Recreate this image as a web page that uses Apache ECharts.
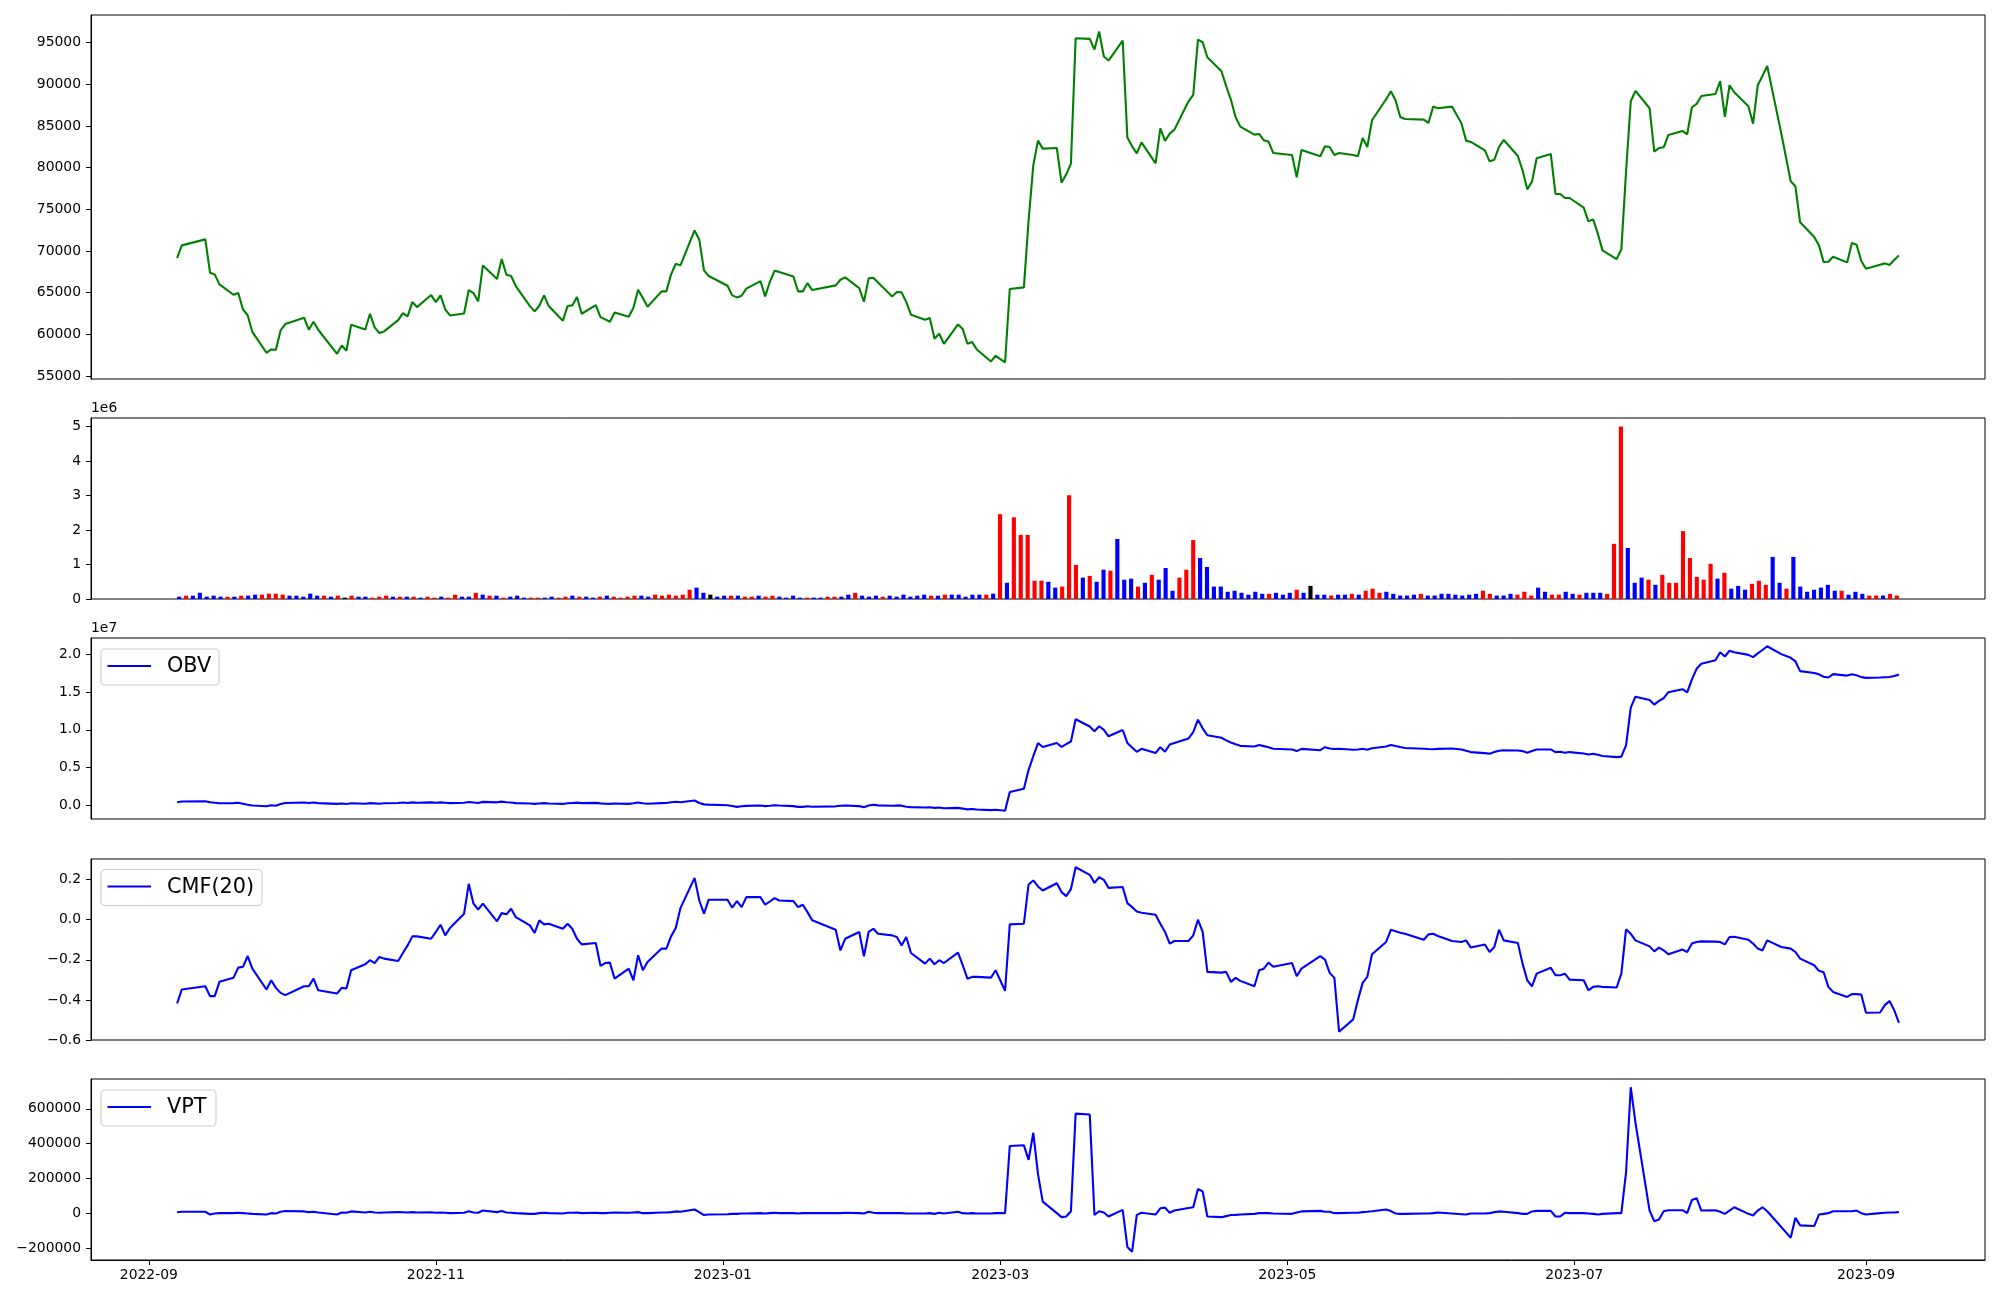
<!DOCTYPE html>
<html>
<head>
<meta charset="utf-8">
<script src="https://cdn.jsdelivr.net/npm/echarts@6.0.0/dist/echarts.min.js"></script>
<style>html,body{margin:0;padding:0;background:#fff}#c{width:2000px;height:1300px}</style>
</head>
<body>
<div id="c"></div>
<script>
// ---------- DATA ----------
// Trading days (Korean market), by month
const tradingDays = [
  ['2022-09', [7,8,13,14,15,16,19,20,21,22,23,26,27,28,29,30]],
  ['2022-10', [4,5,6,7,11,12,13,14,17,18,19,20,21,24,25,26,27,28,31]],
  ['2022-11', [1,2,3,4,7,8,9,10,11,14,15,16,17,18,21,22,23,24,25,28,29,30]],
  ['2022-12', [1,2,5,6,7,8,9,12,13,14,15,16,19,20,21,22,23,26,27,28,29]],
  ['2023-01', [2,3,4,5,6,9,10,11,12,13,16,17,18,19,20,25,26,27,30,31]],
  ['2023-02', [1,2,3,6,7,8,9,10,13,14,15,16,17,20,21,22,23,24,27,28]],
  ['2023-03', [2,3,6,7,8,9,10,13,14,15,16,17,20,21,22,23,24,27,28,29,30,31]],
  ['2023-04', [3,4,5,6,7,10,11,12,13,14,17,18,19,20,21,24,25,26,27,28]],
  ['2023-05', [2,3,4,8,9,10,11,12,15,16,17,18,19,22,23,24,25,26,30,31]],
  ['2023-06', [1,2,5,7,8,9,12,13,14,15,16,19,20,21,22,23,26,27,28,29,30]],
  ['2023-07', [3,4,5,6,7,10,11,12,13,14,17,18,19,20,21,24,25,26,27,28,31]],
  ['2023-08', [1,2,3,4,7,8,9,10,11,14,16,17,18,21,22,23,24,25,28,29,30,31]],
  ['2023-09', [1,4,5,6,7,8]]
];

const closePrice = [
  69160,70680,71400,67400,67200,66000,64760,64960,63000,62300,60300,57800,58200,58160,60480,61240,
  62000,60560,61520,60560,57680,58680,58040,61160,60600,62480,60840,60160,60360,61720,62560,62160,63880,63280,64720,
  63880,64680,63000,62280,62520,65320,64960,63960,68280,66640,69040,67160,67000,65800,63400,62760,63440,64680,63400,61640,63400,63480,
  64480,62480,63520,62080,61800,61520,62640,62120,63200,65360,64360,63320,65160,65160,67200,68480,68280,72480,71360,67680,67000,
  65840,64680,64440,64640,65500,66400,64560,66300,67640,67500,66960,65160,65160,66160,65320,65880,66560,66840,65560,63920,
  66720,66800,66240,64560,65080,65040,63880,62360,61760,61960,59480,60080,58880,61200,60640,58880,59080,58200,56760,57440,
  56640,65440,65640,73680,80280,83240,82280,82360,78200,79200,80480,95520,95440,94160,96320,93320,92840,95240,83600,82560,81720,83040,
  80520,84720,83200,84080,84560,87960,88720,95360,95040,93240,91560,89760,88160,86040,84920,83960,84040,83280,83120,81760,
  81520,78840,82120,81360,82560,82480,81520,81760,81520,81360,83560,82480,85680,88200,89160,88080,86080,85840,85760,85360,
  87320,87120,87320,85320,83240,83080,82080,80760,80960,82480,83320,81400,79680,77400,78320,81120,81640,76840,76840,76360,76360,
  75200,73560,73800,72080,70080,69040,70200,79500,87960,89200,87120,81920,82360,82440,83920,84400,84000,87240,87640,88600,88840,
  90360,86080,89880,89040,87360,85280,89880,91000,92200,84100,78360,77760,73440,71680,70680,68680,68720,69320,68640,70960,70760,68800,
  67880,68360,68520,68320,68920,69480
];

// Volume in millions of shares
const volumeM = [
  0.068,0.097,0.097,0.18,0.068,0.097,0.068,0.068,0.068,0.097,0.097,0.126,0.126,0.155,0.155,0.126,
  0.097,0.097,0.068,0.155,0.097,0.097,0.068,0.097,0.04,0.097,0.068,0.068,0.04,0.068,0.097,0.068,0.068,0.068,0.068,
  0.04,0.068,0.04,0.068,0.04,0.126,0.068,0.068,0.18,0.126,0.097,0.097,0.04,0.068,0.097,0.04,0.04,0.04,0.04,0.068,0.04,0.068,
  0.097,0.068,0.068,0.04,0.068,0.097,0.068,0.04,0.068,0.097,0.097,0.068,0.126,0.097,0.126,0.097,0.126,0.27,0.33,0.18,0.126,
  0.068,0.097,0.097,0.097,0.068,0.068,0.097,0.068,0.097,0.068,0.04,0.097,0.04,0.04,0.04,0.04,0.068,0.068,0.068,0.126,
  0.18,0.097,0.068,0.097,0.068,0.097,0.068,0.126,0.068,0.097,0.126,0.097,0.097,0.126,0.126,0.126,0.068,0.126,0.126,0.126,
  0.155,2.46,0.47,2.37,1.86,1.86,0.53,0.53,0.5,0.33,0.36,3.01,0.99,0.62,0.67,0.5,0.85,0.82,1.74,0.56,0.59,0.36,
  0.47,0.70,0.56,0.90,0.24,0.62,0.85,1.71,1.19,0.93,0.36,0.36,0.21,0.24,0.18,0.125,0.21,0.15,0.15,0.18,
  0.125,0.18,0.27,0.18,0.38,0.125,0.125,0.1,0.125,0.125,0.15,0.125,0.24,0.30,0.18,0.21,0.15,0.1,0.1,0.125,
  0.15,0.1,0.1,0.15,0.15,0.125,0.1,0.125,0.15,0.24,0.15,0.1,0.1,0.15,0.125,0.21,0.1,0.33,0.21,0.125,0.125,
  0.21,0.15,0.125,0.18,0.18,0.18,0.15,1.6,5.0,1.48,0.47,0.62,0.56,0.41,0.70,0.47,0.47,1.97,1.19,0.64,0.56,
  1.02,0.59,0.76,0.30,0.38,0.27,0.44,0.53,0.41,1.22,0.47,0.30,1.22,0.36,0.21,0.27,0.33,0.41,0.24,0.24,0.125,0.21,
  0.15,0.1,0.1,0.1,0.15,0.1
];

// Candle direction of each day: U = up (close > open), D = down, E = equal
const candleDir = (
  'DUDDDDDUDUDDUUUU' +
  'DDDDDUDUEUDDUUUDUDU' +
  'DUUDUUDDUDUDUDDDUUDDUU' +
  'DUDDUDUUUUDDUUUUUUDDE' +
  'DDUDUUDUUDDDDUDDUUDD' +
  'UDDDUDDDDDDUDUDDDDDU' +
  'DUDUUUUUDDUUUDUDDUDDDU' +
  'DUDDDUUUDDDDDDDDDDUD' +
  'DDUDEDDUDDUDUUUDDDDD' +
  'UDDDDDDDDUUDDDUUUDDUU' +
  'DDUDDDUUUDDDUDUUUUUUU' +
  'UDUDDDUUUDDUDDDDDDDUDD' +
  'DUUDUU'
);

// On-balance volume, millions
const obvM = [
  0.39,0.49,0.53,0.39,0.33,0.25,0.28,0.32,0.2,0.05,-0.05,-0.13,0.0,-0.08,0.15,0.3,
  0.35,0.3,0.36,0.28,0.17,0.22,0.16,0.26,0.2,0.28,0.24,0.2,0.26,0.3,0.35,0.3,0.37,0.32,0.38,
  0.33,0.38,0.33,0.28,0.33,0.42,0.36,0.3,0.44,0.38,0.47,0.4,0.35,0.28,0.22,0.17,0.22,0.27,0.22,0.17,0.25,0.3,
  0.34,0.27,0.31,0.24,0.2,0.17,0.22,0.18,0.25,0.35,0.26,0.2,0.28,0.3,0.4,0.46,0.4,0.62,0.29,0.11,0.08,
  0.0,-0.1,-0.22,-0.15,-0.09,-0.04,-0.12,-0.07,0.0,-0.05,-0.12,-0.22,-0.22,-0.15,-0.2,-0.15,-0.08,-0.04,-0.12,-0.26,
  -0.05,0.05,-0.02,-0.08,-0.03,-0.06,-0.2,-0.26,-0.3,-0.27,-0.35,-0.3,-0.4,-0.36,-0.45,-0.55,-0.5,-0.58,-0.66,-0.6,
  -0.74,1.75,2.18,4.7,6.5,8.25,7.72,8.25,7.75,8.1,8.45,11.4,10.45,9.82,10.48,10.0,9.15,9.98,8.26,7.65,7.09,7.48,
  6.93,7.7,7.1,8.05,8.27,8.86,9.7,11.35,10.2,9.28,8.95,8.6,8.33,8.08,7.88,7.8,7.98,7.84,7.7,7.5,
  7.4,7.18,7.48,7.3,7.7,7.52,7.45,7.5,7.35,7.4,7.5,7.35,7.55,7.8,8.0,7.85,7.72,7.6,7.5,7.45,
  7.42,7.48,7.53,7.4,7.22,7.05,6.91,6.83,7.05,7.22,7.3,7.26,7.18,6.96,7.18,7.4,7.4,7.05,7.09,6.96,7.05,
  6.87,6.74,6.83,6.7,6.52,6.38,6.45,7.95,12.95,14.4,13.96,13.35,13.85,14.2,15.0,15.4,14.97,16.7,18.1,18.77,19.25,
  20.3,19.74,20.5,20.3,19.95,19.65,20.15,20.6,21.1,20.05,19.56,19.08,17.8,17.55,17.37,17.05,16.95,17.4,17.2,17.37,17.24,17.0,
  16.9,16.94,16.98,17.02,17.15,17.33
];

// Chaikin money flow (20)
const cmf20 = [
  -0.418,-0.348,-0.332,-0.381,-0.381,-0.31,-0.289,-0.239,-0.235,-0.181,-0.244,-0.348,-0.302,-0.34,-0.365,-0.376,
  -0.332,-0.332,-0.294,-0.352,-0.368,-0.34,-0.343,-0.252,-0.222,-0.202,-0.216,-0.186,-0.194,-0.206,-0.166,-0.128,-0.083,-0.083,-0.095,
  -0.061,-0.025,-0.078,-0.041,0.03,0.179,0.08,0.051,0.08,-0.008,0.033,0.027,0.055,0.013,-0.028,-0.066,-0.003,-0.023,-0.02,-0.045,-0.02,-0.045,
  -0.095,-0.123,-0.116,-0.23,-0.216,-0.214,-0.294,-0.244,-0.302,-0.177,-0.252,-0.211,-0.144,-0.144,-0.083,-0.041,0.058,0.209,0.096,0.03,0.1,
  0.1,0.06,0.093,0.063,0.113,0.113,0.075,0.091,0.108,0.096,0.093,0.063,0.075,0.038,-0.003,-0.05,-0.153,-0.095,-0.061,-0.182,
  -0.061,-0.045,-0.07,-0.078,-0.086,-0.128,-0.086,-0.166,-0.219,-0.194,-0.222,-0.202,-0.216,-0.164,-0.227,-0.294,-0.285,-0.285,-0.289,-0.252,
  -0.355,-0.023,-0.02,0.176,0.196,0.166,0.146,0.182,0.138,0.118,0.153,0.262,0.224,0.184,0.212,0.199,0.159,0.163,0.083,0.063,0.041,0.035,
  0.025,-0.02,-0.061,-0.119,-0.106,-0.106,-0.078,0.0,-0.061,-0.26,-0.264,-0.26,-0.31,-0.29,-0.305,-0.332,-0.252,-0.244,-0.214,-0.235,
  -0.216,-0.282,-0.244,-0.182,-0.199,-0.265,-0.29,-0.559,-0.497,-0.401,-0.315,-0.285,-0.172,-0.111,-0.05,-0.058,-0.065,-0.07,-0.1,-0.073,
  -0.07,-0.081,-0.106,-0.111,-0.103,-0.139,-0.124,-0.161,-0.136,-0.05,-0.103,-0.116,-0.219,-0.302,-0.332,-0.269,-0.24,-0.277,-0.277,-0.269,-0.299,
  -0.302,-0.352,-0.335,-0.332,-0.335,-0.338,-0.269,-0.048,-0.07,-0.103,-0.133,-0.158,-0.139,-0.153,-0.172,-0.149,-0.161,-0.119,-0.111,-0.108,-0.109,
  -0.111,-0.123,-0.086,-0.085,-0.1,-0.119,-0.144,-0.153,-0.103,-0.136,-0.144,-0.161,-0.194,-0.227,-0.255,-0.262,-0.335,-0.36,-0.385,-0.371,-0.371,-0.373,
  -0.464,-0.463,-0.426,-0.406,-0.451,-0.514
];

// Volume price trend, thousands
const vptK = [
  5,8,8,-8,-2,0,0,2,0,-2,-4,-8,0,-2,8,12,
  10,6,8,4,-8,4,2,10,4,8,4,2,4,6,5,4,6,4,5,
  2,4,2,0,2,11,4,2,15,6,12,4,2,0,-4,-4,0,2,0,-2,2,2,
  4,0,2,0,0,2,4,2,4,6,0,0,4,4,6,10,8,21,6,-11,-8,
  -6,-4,-4,-2,-2,0,-2,0,2,0,0,-2,0,0,0,0,0,2,0,-2,
  8,2,0,0,0,0,-2,-2,-2,0,-4,2,-2,8,0,-2,0,-2,-2,0,
  0,386,390,306,462,224,66,0,-23,-19,11,572,567,-10,11,4,-19,19,-194,-222,-10,2,
  -8,28,32,2,15,30,34,139,125,-19,-23,-17,-11,-10,-8,-4,0,0,0,-2,
  -4,4,10,13,8,8,0,0,2,2,6,8,11,21,12,-2,-4,-4,-2,-2,
  0,4,-2,-6,-8,-2,-2,0,6,10,8,0,-4,-4,10,13,13,-19,-19,2,0,
  0,-2,-4,-8,-4,0,0,234,724,520,15,-46,-36,11,17,17,0,76,86,15,17,
  8,-4,15,34,-4,-13,15,34,11,-80,-141,-27,-70,-74,-8,-4,0,11,11,11,15,0,
  -8,0,2,4,4,6
];

const priceTicks = [55000,60000,65000,70000,75000,80000,85000,90000,95000];
const volumeTicks = [0,1,2,3,4,5];          // x 1e6
const obvTicks = [0.0,0.5,1.0,1.5,2.0];     // x 1e7
const cmfTicks = [-0.6,-0.4,-0.2,0.0,0.2];
const vptTicks = [-200000,0,200000,400000,600000];
const dateTickLabels = ['2022-09','2022-11','2023-01','2023-03','2023-05','2023-07','2023-09'];

// ---------- BUILD ----------
const dates = [];
tradingDays.forEach(([ym, days]) => {
  const [y, m] = ym.split('-').map(Number);
  days.forEach(d => dates.push(Date.UTC(y, m - 1, d)));
});
const N = dates.length;
const pair = (arr, k) => arr.map((v, i) => [dates[i], v * (k || 1)]);

const t0 = dates[0], t1 = dates[N - 1];
const tMin = t0 - 0.05 * (t1 - t0), tMax = t1 + 0.05 * (t1 - t0);
function padded(arr) {
  const mn = Math.min(...arr), mx = Math.max(...arr), r = mx - mn;
  return [mn - 0.05 * r, mx + 0.05 * r];
}
const obvRaw = obvM.map(v => v * 1e6);
const vptRaw = vptK.map(v => v * 1000);
const [pMin, pMax] = padded(closePrice);
const [oMin, oMax] = padded(obvRaw);
const [cMin, cMax] = padded(cmf20);
const [vMin, vMax] = padded(vptRaw);
const volMax = Math.max(...volumeM) * 1e6 * 1.05;
const barW = 0.6;
const bxMin = -barW / 2 - 0.05 * (N - 1 + barW), bxMax = N - 1 + barW / 2 + 0.05 * (N - 1 + barW);

const FONT = 'DejaVu Sans';
const minus = s => String(s).replace('-', '\u2212');
const dateTickVals = dateTickLabels.map(s => { const [y, m] = s.split('-').map(Number); return Date.UTC(y, m - 1, 1); });
const fmtDate = v => { const d = new Date(v); return d.getUTCFullYear() + '-' + String(d.getUTCMonth() + 1).padStart(2, '0'); };

const L = 91, R = 15;
const grids = [
  {top: 15, height: 364},
  {top: 418, height: 181},
  {top: 638, height: 181},
  {top: 859, height: 181},
  {top: 1079, height: 181}
].map(g => Object.assign({left: L, right: R, show: true, borderColor: '#000', borderWidth: 1, backgroundColor: 'transparent', containLabel: false}, g));
const gridW = 2000 - L - R;

function yAx(gi, min, max, ticks, fmt) {
  return {
    type: 'value', gridIndex: gi, min: min, max: max, splitLine: {show: false},
    axisLine: {show: true, onZero: false, lineStyle: {color: '#000', width: 1}},
    axisTick: {show: true, length: 5, lineStyle: {color: '#000', width: 1}, customValues: ticks},
    axisLabel: {customValues: ticks, formatter: fmt, margin: 10, color: '#000', fontSize: 13.9, fontFamily: FONT}
  };
}
function xHidden(gi, min, max) {
  return {type: 'value', gridIndex: gi, min: min, max: max, show: false, splitLine: {show: false}, axisLine: {onZero: false}};
}

const dirColor = {U: '#ff0000', D: '#0000ff', E: '#000000'};
const volData = volumeM.map((v, i) => ({value: [i, v * 1e6], itemStyle: {color: dirColor[candleDir[i]]}}));

const lineBase = {type: 'line', showSymbol: false, symbol: 'none', animation: false, silent: true};

function legendBox(x, y, w, label) {
  return [
    {type: 'rect', shape: {x: x, y: y, width: w, height: 36, r: 4}, style: {fill: 'rgba(255,255,255,0.8)', stroke: '#cccccc', lineWidth: 1.1}, z: 100},
    {type: 'line', shape: {x1: x + 6.5, y1: y + 17, x2: x + 50, y2: y + 17}, style: {stroke: '#0000ff', lineWidth: 2.1}, z: 101},
    {type: 'text', x: x + 66, y: y + 18, style: {text: label, fill: '#000', font: '20.8px "DejaVu Sans"', textVerticalAlign: 'middle', textAlign: 'left'}, z: 101}
  ];
}

const warn = [];
[['price', closePrice], ['vol', volumeM], ['obv', obvM], ['cmf', cmf20], ['vpt', vptK], ['dir', candleDir.split('')]].forEach(([n, a]) => {
  if (a.length !== N) warn.push(n + ':' + a.length + '/' + N);
});

const option = {
  backgroundColor: '#ffffff',
  animation: false,
  textStyle: {fontFamily: FONT},
  grid: grids,
  xAxis: [
    xHidden(0, tMin, tMax),
    xHidden(1, bxMin, bxMax),
    xHidden(2, tMin, tMax),
    xHidden(3, tMin, tMax),
    {
      type: 'value', gridIndex: 4, min: tMin, max: tMax, splitLine: {show: false},
      axisLine: {show: true, onZero: false, lineStyle: {color: '#000', width: 1}},
      axisTick: {show: true, length: 5, lineStyle: {color: '#000', width: 1}, customValues: dateTickVals},
      axisLabel: {customValues: dateTickVals, formatter: fmtDate, margin: 8, color: '#000', fontSize: 13.9, fontFamily: FONT}
    }
  ],
  yAxis: [
    yAx(0, pMin, pMax, priceTicks, v => String(Math.round(v))),
    yAx(1, 0, volMax, volumeTicks.map(v => v * 1e6), v => String(Math.round(v / 1e6))),
    yAx(2, oMin, oMax, obvTicks.map(v => v * 1e7), v => minus((v / 1e7).toFixed(1))),
    yAx(3, cMin, cMax, cmfTicks, v => minus(v.toFixed(1))),
    yAx(4, vMin, vMax, vptTicks, v => minus(Math.round(v)))
  ],
  series: [
    Object.assign({}, lineBase, {name: 'Close', xAxisIndex: 0, yAxisIndex: 0, data: pair(closePrice), lineStyle: {color: '#008000', width: 2.1}}),
    {type: 'bar', name: 'Volume', xAxisIndex: 1, yAxisIndex: 1, data: volData, barWidth: barW * gridW / (bxMax - bxMin), animation: false, silent: true},
    Object.assign({}, lineBase, {name: 'OBV', xAxisIndex: 2, yAxisIndex: 2, data: pair(obvRaw), lineStyle: {color: '#0000ff', width: 2.1}}),
    Object.assign({}, lineBase, {name: 'CMF(20)', xAxisIndex: 3, yAxisIndex: 3, data: pair(cmf20), lineStyle: {color: '#0000ff', width: 2.1}}),
    Object.assign({}, lineBase, {name: 'VPT', xAxisIndex: 4, yAxisIndex: 4, data: pair(vptRaw), lineStyle: {color: '#0000ff', width: 2.1}})
  ],
  graphic: [].concat(
    [{type: 'text', x: 91, y: 408, style: {text: '1e6', fill: '#000', font: '13.9px "DejaVu Sans"', textVerticalAlign: 'middle'}}],
    [{type: 'text', x: 91, y: 628, style: {text: '1e7', fill: '#000', font: '13.9px "DejaVu Sans"', textVerticalAlign: 'middle'}}],
    legendBox(101, 649, 118, 'OBV'),
    legendBox(101, 869.5, 161, 'CMF(20)'),
    legendBox(101, 1090, 115, 'VPT'),
    warn.length ? [{type: 'text', x: 1500, y: 1285, style: {text: warn.join(' '), fill: 'red', font: '14px sans-serif'}}] : []
  )
};

const chart = echarts.init(document.getElementById('c'), null, {renderer: 'canvas', width: 2000, height: 1300});
chart.setOption(option);
</script>
</body>
</html>
